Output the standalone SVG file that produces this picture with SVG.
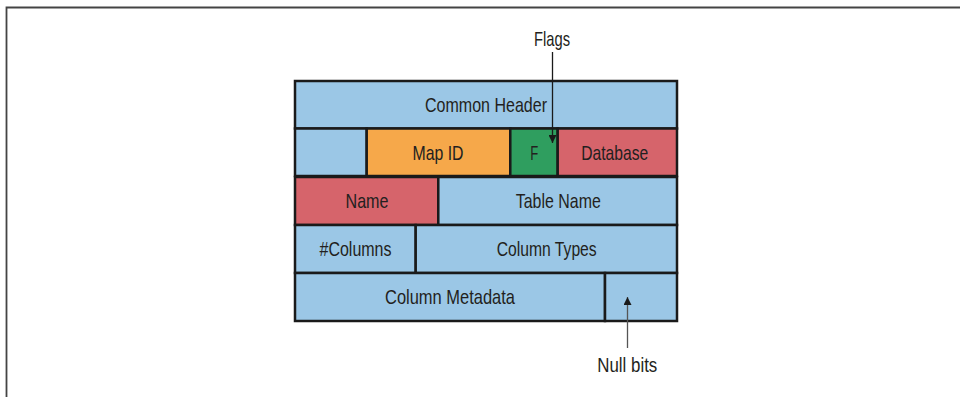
<svg xmlns="http://www.w3.org/2000/svg" width="960" height="397" viewBox="0 0 960 397">
<style>
.c{stroke:#1a1a1a;stroke-width:2.5}
.b{fill:#9bc7e6}.o{fill:#f6a84a}.g{fill:#2f9e5f}.r{fill:#d6646b}
text{font-family:"Liberation Sans",Arial,sans-serif;font-size:21px;fill:#231f20;text-anchor:middle}
</style>
<defs>
<marker id="ah" viewBox="0 0 10 10" refX="10" refY="5" markerWidth="8" markerHeight="8" markerUnits="userSpaceOnUse" orient="auto"><path d="M0,0L10,5L0,10z" fill="#1a1a1a"/></marker>
<marker id="ah2" viewBox="0 0 10 10" refX="10" refY="5" markerWidth="8" markerHeight="8" markerUnits="userSpaceOnUse" orient="auto"><path d="M0,0L10,5L0,10z" fill="#1a1a1a"/></marker>
</defs>
<rect width="960" height="397" fill="#fff"/>
<path d="M6.5,397V7.5H960" fill="none" stroke="#444" stroke-width="1.8"/>
<g id="common-header"><rect class="c b" x="295" y="81" width="382" height="47.5"/><text x="486" y="111.5" textLength="122" lengthAdjust="spacingAndGlyphs">Common Header</text></g>
<g id="blank"><rect class="c b" x="295" y="128.5" width="71.7" height="47.5"/></g>
<g id="map-id"><rect class="c o" x="366.7" y="128.5" width="143.6" height="47.5"/><text x="438" y="160" textLength="51" lengthAdjust="spacingAndGlyphs">Map ID</text></g>
<g id="flags-f"><rect class="c g" x="510.3" y="128.5" width="47.4" height="47.5"/><text x="534.2" y="160" textLength="8" lengthAdjust="spacingAndGlyphs">F</text></g>
<g id="database"><rect class="c r" x="557.7" y="128.5" width="119.3" height="47.5"/><text x="614.7" y="160" textLength="67" lengthAdjust="spacingAndGlyphs">Database</text></g>
<g id="name"><rect class="c r" x="295" y="177" width="143.3" height="48"/><text x="367" y="207.7" textLength="43" lengthAdjust="spacingAndGlyphs">Name</text></g>
<g id="table-name"><rect class="c b" x="438.3" y="177" width="238.7" height="48"/><text x="558.3" y="207.7" textLength="85" lengthAdjust="spacingAndGlyphs">Table Name</text></g>
<g id="columns"><rect class="c b" x="295" y="225" width="120.7" height="48"/><text x="355.5" y="256" textLength="72" lengthAdjust="spacingAndGlyphs">#Columns</text></g>
<g id="column-types"><rect class="c b" x="415.7" y="225" width="261.3" height="48"/><text x="546.7" y="256" textLength="100" lengthAdjust="spacingAndGlyphs">Column Types</text></g>
<g id="column-metadata"><rect class="c b" x="295" y="273" width="310" height="48"/><text x="450" y="303.5" textLength="130" lengthAdjust="spacingAndGlyphs">Column Metadata</text></g>
<g id="null-bits-cell"><rect class="c b" x="605" y="273" width="72" height="48"/></g>
<g id="flags-label"><text x="552" y="46" textLength="36" lengthAdjust="spacingAndGlyphs">Flags</text></g>
<g id="null-bits-label"><text x="627.3" y="372" textLength="60" lengthAdjust="spacingAndGlyphs">Null bits</text></g>
<g id="connectors">
<line x1="552.5" y1="52" x2="552.5" y2="143" stroke="#1a1a1a" stroke-width="1.3" marker-end="url(#ah)"/>
<line x1="627.5" y1="348" x2="627.5" y2="297" stroke="#555" stroke-width="1.3" marker-end="url(#ah2)"/>
</g>
</svg>
